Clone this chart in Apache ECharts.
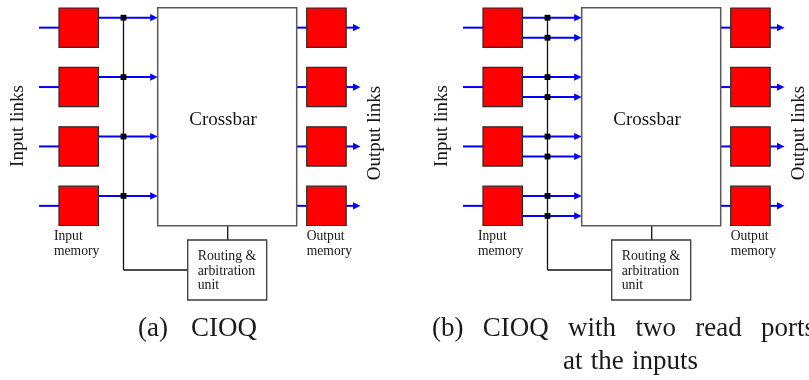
<!DOCTYPE html>
<html>
<head>
<meta charset="utf-8">
<script src="https://cdn.jsdelivr.net/npm/echarts@6/dist/echarts.min.js"></script>
<style>
  html, body { margin: 0; padding: 0; background: #fff; }
  #main { width: 809px; height: 380px; }
</style>
</head>
<body>
<div id="main"></div>
<script>
// Switch architectures drawn side by side
const panelKeys = ['(a)', '(b)'];
const readPortsPerInput = [1, 2];          // read ports of each input memory
const linkIds = [0, 1, 2, 3];              // four input / output links
const captionLines = [
  ['(a) CIOQ'],
  ['(b) CIOQ with two read ports', 'at the inputs']
];
const crossbarName = 'Crossbar';
const routingNames = ['Routing &', 'arbitration', 'unit'];
const inputMemoryNames = ['Input', 'memory'];
const outputMemoryNames = ['Output', 'memory'];
const sideNames = ['Input links', 'Output links'];

// Layout of one panel in plot units (y grows downward)
const G = {
  panelDx: 424,
  inLineX: 39, memInX: 59, memW: 39.5, memTop: 8, memH: 39.3, memPitch: 59.4,
  portOffset: 9.7, portPitch: 20,
  busX: 123.5, busBottom: 270, junction: 5.8,
  xbarL: 157.7, xbarR: 296.7, xbarT: 7.7, xbarB: 225.7,
  memOutX: 306.7, outTip: 360.5,
  routeL: 187.7, routeR: 266.7, routeT: 240, routeB: 300, routeTapX: 227.7
};
// caption placement: each line is spread across [left, right] like a typeset line
const captionPlacement = [
  [{ y: 329, left: 138, right: 257 }],
  [{ y: 329, left: 432, right: 815 }, { y: 362, left: 563, right: 698 }]
];

const BLUE = '#0000ff';
const RED = '#ff0000';
const LABEL_FONT = '"Liberation Serif", "Times New Roman", serif';
const CAPTION_FONT = '"Liberation Serif", serif';
const CAPTION_SIZE = 27;

const measureCtx = document.createElement('canvas').getContext('2d');
function textWidth(str, font) {
  measureCtx.font = font;
  return measureCtx.measureText(str).width;
}

function renderPanel(params, api) {
  const p = api.value(0);
  const dx = p * G.panelDx;
  const c = (x, y) => api.coord([x + dx, y]);
  const lines = [], boxes = [], marks = [], texts = [];

  const seg = (list, x1, y1, x2, y2, stroke, lw) => {
    const a = c(x1, y1), b = c(x2, y2);
    list.push({ type: 'line', shape: { x1: a[0], y1: a[1], x2: b[0], y2: b[1] },
      style: { stroke: stroke, lineWidth: lw } });
  };
  const box = (x1, y1, x2, y2, fill, stroke, lw) => {
    const a = c(x1, y1), b = c(x2, y2);
    boxes.push({ type: 'rect', shape: { x: a[0], y: a[1], width: b[0] - a[0], height: b[1] - a[1] },
      style: { fill: fill, stroke: stroke, lineWidth: lw } });
  };
  const arrow = (x1, y, x2) => {
    const t = c(x2, y);
    seg(lines, x1, y, x2 - 5, y, BLUE, 2);
    marks.push({ type: 'polygon',
      shape: { points: [[t[0], t[1]], [t[0] - 7.5, t[1] - 3.6], [t[0] - 7.5, t[1] + 3.6]] },
      style: { fill: BLUE } });
  };
  const label = (str, x, y, size, align) => {
    const pt = c(x, y);
    texts.push({ type: 'text', x: pt[0], y: pt[1],
      style: { text: str, fill: '#161616', font: size + 'px ' + LABEL_FONT,
        align: align || 'left', verticalAlign: 'middle' } });
  };

  const nPorts = readPortsPerInput[p];
  let firstPortY = null;
  linkIds.forEach(k => {
    const top = G.memTop + k * G.memPitch;
    const mid = top + G.memH / 2;
    // input link into the input memory
    seg(lines, G.inLineX, mid, G.memInX, mid, BLUE, 2);
    box(G.memInX, top, G.memInX + G.memW, top + G.memH, RED, '#2a2a2a', 1.2);
    // read ports towards the crossbar, tapped by the control bus
    for (let r = 0; r < nPorts; r++) {
      const y = top + G.portOffset + r * G.portPitch;
      if (firstPortY === null) firstPortY = y;
      arrow(G.memInX + G.memW, y, G.xbarL);
      const j = c(G.busX, y);
      marks.push({ type: 'rect',
        shape: { x: j[0] - G.junction / 2, y: j[1] - G.junction / 2, width: G.junction, height: G.junction },
        style: { fill: '#000' } });
    }
    // crossbar output into the output memory and out the link
    seg(lines, G.xbarR, mid, G.memOutX, mid, BLUE, 2);
    box(G.memOutX, top, G.memOutX + G.memW, top + G.memH, RED, '#2a2a2a', 1.2);
    arrow(G.memOutX + G.memW, mid, G.outTip);
  });

  // control bus down to the routing unit
  seg(lines, G.busX, firstPortY, G.busX, G.busBottom, '#111', 1.3);
  seg(lines, G.busX, G.busBottom, G.routeL, G.busBottom, '#111', 1.3);
  seg(lines, G.routeTapX, G.xbarB, G.routeTapX, G.routeT, '#111', 1.3);

  box(G.xbarL, G.xbarT, G.xbarR, G.xbarB, '#fff', '#5a5a5a', 1.5);
  box(G.routeL, G.routeT, G.routeR, G.routeB, '#fff', '#3a3a3a', 1.3);

  // block labels
  label(crossbarName, 223, 120.5, 19, 'center');
  routingNames.forEach((s, i) => label(s, 197.7, 256.7 + i * 14.5, 13.8));
  inputMemoryNames.forEach((s, i) => label(s, 54, 236.7 + i * 15, 13.6));
  outputMemoryNames.forEach((s, i) => label(s, G.memOutX, 236.7 + i * 15, 13.6));
  [[18.3, 126], [375, 133]].forEach((pos, i) => {
    const pt = c(pos[0], pos[1]);
    texts.push({ type: 'text', x: pt[0], y: pt[1], rotation: Math.PI / 2,
      style: { text: sideNames[i], fill: '#161616', font: '19px ' + LABEL_FONT,
        align: 'center', verticalAlign: 'middle' } });
  });

  // caption words spread across their line span
  const capFont = CAPTION_SIZE + 'px ' + CAPTION_FONT;
  captionLines[p].forEach((str, li) => {
    const place = captionPlacement[p][li];
    const words = str.split(' ');
    const widths = words.map(w => textWidth(w, capFont));
    const a = api.coord([place.left, place.y]), b = api.coord([place.right, place.y]);
    const total = widths.reduce((s, w) => s + w, 0);
    const gap = (b[0] - a[0] - total) / Math.max(1, words.length - 1);
    let x = a[0];
    words.forEach((w, i) => {
      texts.push({ type: 'text', x: x, y: a[1],
        style: { text: w, fill: '#1a1a1a', font: capFont, align: 'left', verticalAlign: 'middle' } });
      x += widths[i] + gap;
    });
  });

  return { type: 'group', children: lines.concat(boxes, marks, texts) };
}

const chart = echarts.init(document.getElementById('main'), null, { renderer: 'canvas' });
chart.setOption({
  animation: false,
  backgroundColor: '#fff',
  grid: { left: 0, right: 0, top: 0, bottom: 0 },
  xAxis: { type: 'value', min: 0, max: 809, show: false },
  yAxis: { type: 'value', min: 0, max: 380, inverse: true, show: false },
  series: [{
    type: 'custom',
    coordinateSystem: 'cartesian2d',
    renderItem: renderPanel,
    data: panelKeys.map((k, i) => [i, 0]),
    silent: true
  }]
});
</script>
</body>
</html>
